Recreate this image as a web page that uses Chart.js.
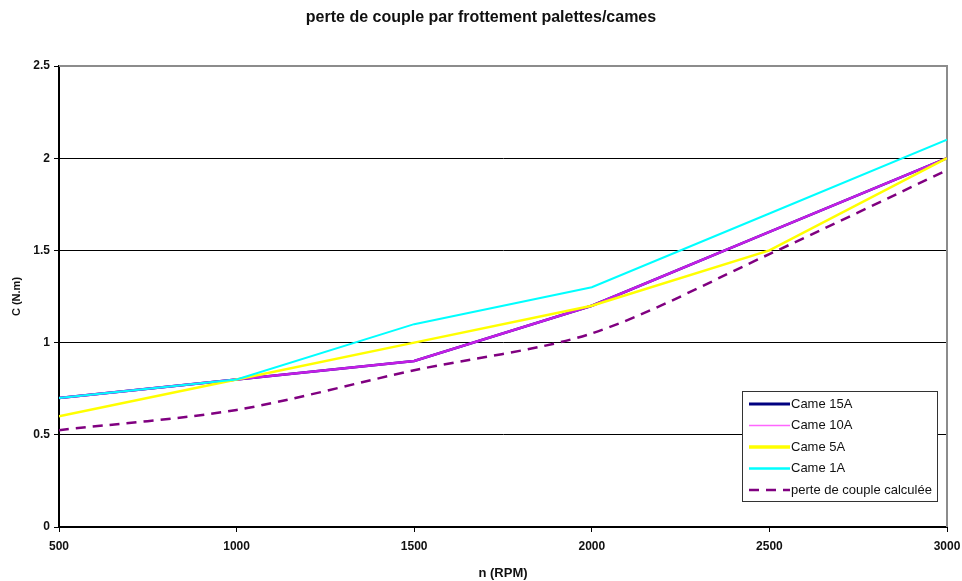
<!DOCTYPE html>
<html>
<head>
<meta charset="utf-8">
<script src="https://cdn.jsdelivr.net/npm/chart.js@4/dist/chart.umd.min.js"></script>
<style>
  html, body { margin: 0; padding: 0; background: #fff; }
  #wrap { width: 962px; height: 581px; }
</style>
</head>
<body>
<div id="wrap"><canvas id="chart" width="962" height="581"></canvas></div>
<script>
// Données
const rpm = [500, 1000, 1500, 2000, 2500, 3000];
const came15A = [0.7, 0.8, 0.9, 1.2, 1.6, 2.0];
const came10A = [0.7, 0.8, 0.9, 1.2, 1.6, 2.0];
const came5A = [0.6, 0.8, 1.0, 1.2, 1.5, 2.0];
const came1A = [0.7, 0.8, 1.1, 1.3, 1.7, 2.1];
const perteCalculee = [0.525, 0.635, 0.85, 1.05, 1.48, 1.935];
const yTicks = [0, 0.5, 1, 1.5, 2, 2.5];

const police = "'Liberation Sans', Arial, sans-serif";

function points(values) {
    return rpm.map((x, i) => ({ x: x, y: values[i] }));
}

// Cadre gris, titre et légende dessinés à la main
const decor = {
    id: 'decor',
    beforeDatasetsDraw(chart) {
        const { ctx, chartArea: a } = chart;
        ctx.save();
        ctx.strokeStyle = '#8c8c8c';
        ctx.lineWidth = 2;
        ctx.beginPath();
        ctx.moveTo(a.left, a.top);
        ctx.lineTo(a.right, a.top);
        ctx.lineTo(a.right, a.bottom);
        ctx.stroke();
        ctx.restore();
    },
    afterDraw(chart) {
        const ctx = chart.ctx;
        ctx.save();
        // titre
        ctx.fillStyle = '#111';
        ctx.font = 'bold 16px ' + police;
        ctx.textAlign = 'center';
        ctx.textBaseline = 'middle';
        ctx.fillText('perte de couple par frottement palettes/cames', 481, 18);

        // légende
        const bx = 742, by = 391, bw = 195, bh = 110;
        ctx.fillStyle = '#fff';
        ctx.fillRect(bx, by, bw, bh);
        ctx.strokeStyle = '#333';
        ctx.lineWidth = 1;
        ctx.strokeRect(bx + 0.5, by + 0.5, bw, bh);
        ctx.font = '13px ' + police;
        ctx.textAlign = 'left';
        chart.data.datasets.forEach((ds, i) => {
            const y = by + 13 + i * 21.5;
            ctx.strokeStyle = ds.legendColor;
            ctx.lineWidth = ds.legendWidth;
            ctx.setLineDash(ds.borderDash || []);
            ctx.beginPath();
            ctx.moveTo(749, y);
            ctx.lineTo(790, y);
            ctx.stroke();
            ctx.setLineDash([]);
            ctx.fillStyle = '#111';
            ctx.fillText(ds.label, 791, y);
        });
        ctx.restore();
    }
};

new Chart(document.getElementById('chart'), {
    type: 'line',
    data: {
        datasets: [{
            label: 'Came 15A',
            data: points(came15A),
            borderColor: '#000080',
            legendColor: '#000080',
            borderWidth: 2.5,
            legendWidth: 3,
            order: 5
        }, {
            label: 'Came 10A',
            data: points(came10A),
            borderColor: '#c41ee6',
            legendColor: '#ff66ff',
            borderWidth: 2.5,
            legendWidth: 1.5,
            order: 4
        }, {
            label: 'Came 5A',
            data: points(came5A),
            borderColor: '#ffff00',
            legendColor: '#ffff00',
            borderWidth: 2.5,
            legendWidth: 3.5,
            order: 3
        }, {
            label: 'Came 1A',
            data: points(came1A),
            borderColor: '#00ffff',
            legendColor: '#00ffff',
            borderWidth: 2,
            legendWidth: 2.5,
            order: 2
        }, {
            label: 'perte de couple calculée',
            data: points(perteCalculee),
            borderColor: '#800080',
            legendColor: '#800080',
            borderWidth: 2.5,
            legendWidth: 2.5,
            borderDash: [10, 7],
            tension: 0.3,
            order: 1
        }]
    },
    options: {
        responsive: false,
        animation: false,
        elements: { point: { radius: 0 }, line: { fill: false } },
        layout: { padding: { top: 66, right: 15, left: 0, bottom: 0 } },
        plugins: {
            legend: { display: false },
            title: { display: false },
            tooltip: { enabled: false }
        },
        scales: {
            x: {
                type: 'linear',
                min: 500,
                max: 3000,
                afterFit(scale) {
                    scale.height = 54;
                    scale.paddingLeft = 0;
                    scale.paddingRight = 0;
                },
                afterBuildTicks(scale) { scale.ticks = rpm.map(v => ({ value: v })); },
                ticks: {
                    color: '#111',
                    padding: 7,
                    maxRotation: 0,
                    callback: v => String(v),
                    font: { family: police, size: 12, weight: 'bold' }
                },
                grid: { display: true, drawOnChartArea: false, color: '#000', tickLength: 5 },
                border: { color: '#000', width: 2 },
                title: {
                    display: true,
                    text: 'n (RPM)',
                    color: '#111',
                    padding: { top: 3, bottom: 0 },
                    font: { family: police, size: 13, weight: 'bold' }
                }
            },
            y: {
                min: 0,
                max: 2.5,
                afterFit(scale) { scale.width = 59; },
                afterBuildTicks(scale) { scale.ticks = yTicks.map(v => ({ value: v })); },
                ticks: {
                    color: '#111',
                    padding: 4,
                    callback: v => String(v),
                    font: { family: police, size: 12, weight: 'bold' }
                },
                grid: {
                    color: ctx => (ctx.tick && ctx.tick.value === 2.5) ? 'rgba(0,0,0,0)' : '#000',
                    lineWidth: 1,
                    tickLength: 5,
                    tickColor: '#000'
                },
                border: { color: '#000', width: 2 },
                title: {
                    display: true,
                    text: 'C (N.m)',
                    color: '#111',
                    padding: { top: 10, bottom: 0 },
                    font: { family: police, size: 11, weight: 'bold' }
                }
            }
        }
    },
    plugins: [decor]
});
</script>
</body>
</html>
